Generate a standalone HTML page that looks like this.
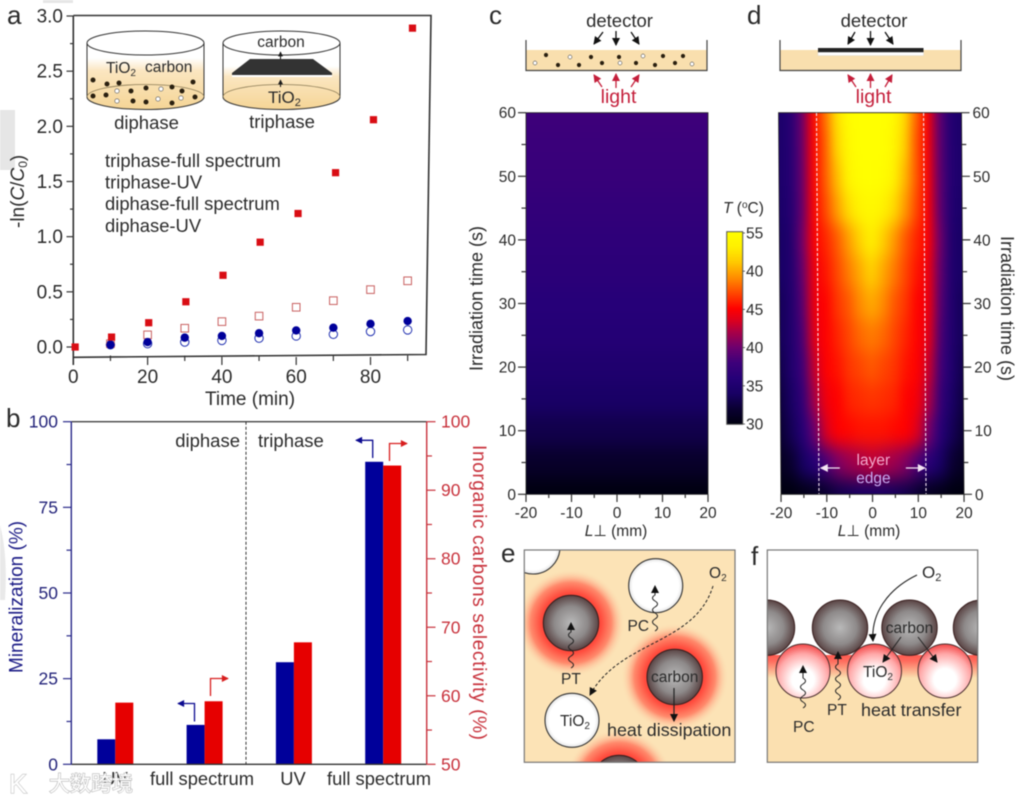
<!DOCTYPE html>
<html lang="en"><head><meta charset="utf-8"><title>Photocatalysis figure</title>
<style>
html,body{margin:0;padding:0;background:#fff}
svg{display:block;font-family:"Liberation Sans",sans-serif;fill:#2b2b2b;filter:blur(.4px)}
svg text{stroke:none}
</style></head>
<body>
<svg id="fig" width="1026" height="800" viewBox="0 0 1026 800" xmlns="http://www.w3.org/2000/svg">
<defs>
<marker id="ah" viewBox="0 0 8 8" refX="7" refY="4" markerWidth="5" markerHeight="6" orient="auto-start-reverse" markerUnits="userSpaceOnUse"><path d="M0 0L8 4L0 8Z" fill="#1a1a1a"/></marker>
<marker id="ahb" viewBox="0 0 8 8" refX="7" refY="4" markerWidth="9" markerHeight="8" orient="auto" markerUnits="userSpaceOnUse"><path d="M0 0L8 4L0 8Z" fill="#111"/></marker>
<marker id="ahr" viewBox="0 0 8 8" refX="7" refY="4" markerWidth="9" markerHeight="8" orient="auto" markerUnits="userSpaceOnUse"><path d="M0 0L8 4L0 8Z" fill="#c41e3a"/></marker>
<marker id="ahB" viewBox="0 0 8 8" refX="7" refY="4" markerWidth="9" markerHeight="7" orient="auto" markerUnits="userSpaceOnUse"><path d="M0 0L8 4L0 8Z" fill="#0b0a8f"/></marker>
<marker id="ahR" viewBox="0 0 8 8" refX="7" refY="4" markerWidth="9" markerHeight="7" orient="auto" markerUnits="userSpaceOnUse"><path d="M0 0L8 4L0 8Z" fill="#d81e1e"/></marker>
<marker id="ahw" viewBox="0 0 8 8" refX="7" refY="4" markerWidth="9" markerHeight="8" orient="auto" markerUnits="userSpaceOnUse"><path d="M0 0L8 4L0 8Z" fill="#f4e4f4"/></marker>
<linearGradient id="fluidA" x1="0" y1="0" x2="0" y2="1"><stop offset="0" stop-color="#fff"/><stop offset=".25" stop-color="#fbe6c0"/><stop offset="1" stop-color="#f5d596"/></linearGradient>
<radialGradient id="gray" cx=".5" cy=".5" r=".5"><stop offset="0" stop-color="#b9b9b9"/><stop offset=".6" stop-color="#8e8a8a"/><stop offset="1" stop-color="#5a4444"/></radialGradient>
<radialGradient id="white" cx=".5" cy=".5" r=".5"><stop offset="0" stop-color="#fff"/><stop offset=".85" stop-color="#fff"/><stop offset="1" stop-color="#e4e4e4"/></radialGradient>
<radialGradient id="pink" cx=".5" cy=".66" r=".68"><stop offset="0" stop-color="#fff"/><stop offset=".3" stop-color="#fff"/><stop offset=".7" stop-color="#ffa8a8"/><stop offset="1" stop-color="#f23c3c"/></radialGradient>
<radialGradient id="halo" cx=".5" cy=".5" r=".5"><stop offset="0" stop-color="#ff3b30"/><stop offset=".55" stop-color="#ff4a3c"/><stop offset=".75" stop-color="#ff8a6c"/><stop offset="1" stop-color="#fde3b6" stop-opacity="0"/></radialGradient>
<linearGradient id="fBand" x1="0" y1="0" x2="0" y2="1"><stop offset="0" stop-color="#ff5a50"/><stop offset=".25" stop-color="#ff6a5c"/><stop offset="1" stop-color="#fbe0b0"/></linearGradient>
<clipPath id="clipC"><rect x="526" y="112.7" width="182" height="381.6"/></clipPath>
<clipPath id="clipD"><rect x="781" y="112.7" width="183" height="381.6"/></clipPath>
<clipPath id="clipE"><rect x="524.5" y="550.5" width="210" height="211.5"/></clipPath>
<clipPath id="clipF"><rect x="767.5" y="550.5" width="210" height="211.5"/></clipPath>
<filter id="smooth" filterUnits="userSpaceOnUse" x="480" y="50" width="540" height="500" color-interpolation-filters="sRGB"><feGaussianBlur stdDeviation="5 9"/></filter>
<linearGradient id="cbarGrad" x1="0" y1="1" x2="0" y2="0"></linearGradient>
</defs>

<!-- scan artefacts -->
<rect x="0" y="110" width="15" height="60" style="fill:#e6e6e6"/>
<rect x="43" y="0" width="30" height="3" style="fill:#e6e6e6"/>
<path d="M0 525Q8 555 5 600L0 600Z" style="fill:#e9e9e9"/>

<!-- panel letters -->
<text x="7" y="24" font-size="26">a</text>
<text x="6" y="427" font-size="26">b</text>
<text x="489" y="24" font-size="26">c</text>
<text x="747" y="24" font-size="26">d</text>
<text x="501" y="562" font-size="26">e</text>
<text x="751" y="565" font-size="26">f</text>

<!-- panel a -->
<g id="panelA">
<path d="M73.3 15.5H431L426 354.5L73.3 357.3" style="fill:none" stroke="#333" stroke-width="1.6"/>
<path d="M73.3 15.5V365" style="fill:none" stroke="#333" stroke-width="1.6"/>
<g id="aAxes"></g>
<g id="aMarks"></g>
<text x="250" y="405" font-size="19" text-anchor="middle">Time (min)</text>
<text transform="translate(24 228) rotate(-90)" font-size="19">-ln(<tspan font-style="italic">C</tspan>/<tspan font-style="italic">C</tspan><tspan font-size="12" dy="3">0</tspan><tspan dy="-3">)</tspan></text>
<g font-size="18.4">
<text x="105" y="167">triphase-full spectrum</text>
<text x="105" y="188.5">triphase-UV</text>
<text x="105" y="210">diphase-full spectrum</text>
<text x="105" y="232">diphase-UV</text>
</g>
<g>
<path d="M87 58V97A58.5 12.5 0 0 0 204 97V58Z" style="fill:url(#fluidA)"/>
<ellipse cx="145.5" cy="43" rx="58.5" ry="12" style="fill:#fff" stroke="#333"/>
<path d="M87 43V97M204 43V97M87 97A58.5 12.5 0 0 0 204 97" style="fill:none" stroke="#333"/>
<path d="M87 97A58.5 12.5 0 0 1 204 97" style="fill:none" stroke="#8a7a55" stroke-width=".8"/>
<g id="diDots"></g>
<text x="106" y="73" font-size="15.5">TiO<tspan font-size="10" dy="3">2</tspan></text>
<text x="145" y="72" font-size="15.5">carbon</text>
<text x="146.5" y="129" font-size="18.5" text-anchor="middle">diphase</text>
</g>
<g>
<path d="M223 66V97A58.5 12.5 0 0 0 340 97V66Z" style="fill:url(#fluidA)"/>
<ellipse cx="281.5" cy="43" rx="58.5" ry="12" style="fill:#fff" stroke="#333"/>
<path d="M223 43V97M340 43V97M223 97A58.5 12.5 0 0 0 340 97" style="fill:none" stroke="#333"/>
<path d="M223 97A58.5 12.5 0 0 1 340 97" style="fill:none" stroke="#8a7a55" stroke-width=".8"/>
<rect x="232" y="73" width="100" height="4" style="fill:#fff" />
<path d="M250 59H313L332 73V75H232V73Z" style="fill:#333"/>
<path d="M280.5 59V52" stroke="#111" style="fill:none" marker-end="url(#ah)"/>
<path d="M280.5 87V80" stroke="#111" style="fill:none" marker-end="url(#ah)"/>
<text x="281" y="47" font-size="15.5" text-anchor="middle">carbon</text>
<text x="268" y="103" font-size="17">TiO<tspan font-size="11" dy="3">2</tspan></text>
<text x="282" y="128" font-size="18.5" text-anchor="middle">triphase</text>
</g>
</g>

<!-- panel b -->
<g id="panelB">
<g id="bMarks"></g>
<path d="M71.3 421.7H426.7" style="fill:none" stroke="#444" stroke-width="1.4"/>
<path d="M71.3 764.3H426.7" style="fill:none" stroke="#333" stroke-width="1.4"/>
<path d="M71.3 421.7V764.3" style="fill:none" stroke="#2a2a8a" stroke-width="1.4"/>
<path d="M426.7 421.7V764.3" style="fill:none" stroke="#c8323c" stroke-width="1.4"/>
<g id="bAxes"></g>
<path d="M246 421.7V764.3" style="fill:none" stroke="#333" stroke-width="1" stroke-dasharray="3 2"/>
<text x="240" y="447" font-size="18.5" text-anchor="end">diphase</text>
<text x="258" y="447" font-size="18.5">triphase</text>
<text transform="translate(22.5 673) rotate(-90)" font-size="19" style="fill:#1c1c86">Mineralization (%)</text>
<text transform="translate(473 445) rotate(90)" font-size="19" textLength="295" style="fill:#c8323c">Inorganic carbons selectivity (%)</text>
<path d="M194.5 721.5V703.5H178" style="fill:none" stroke="#0b0a8f" stroke-width="1.3" marker-end="url(#ahB)"/>
<path d="M210.5 696V678.5H228" style="fill:none" stroke="#d81e1e" stroke-width="1.3" marker-end="url(#ahR)"/>
<path d="M372.7 458V440.3H356" style="fill:none" stroke="#0b0a8f" stroke-width="1.3" marker-end="url(#ahB)"/>
<path d="M389.5 461V443.5H407" style="fill:none" stroke="#d81e1e" stroke-width="1.3" marker-end="url(#ahR)"/>
</g>

<!-- cup c -->
<g id="cupC">
<rect x="526" y="50" width="181" height="20" style="fill:#f9dfae"/>
<path d="M526 40V70.5H707V40" style="fill:none" stroke="#444" stroke-width="1.2"/>
<g id="cDots"></g>
<text x="619.5" y="27" font-size="18.5" text-anchor="middle">detector</text>
<text x="618.5" y="103" font-size="19.5" text-anchor="middle" style="fill:#c41e3a">light</text>
<g style="fill:none" stroke="#111" stroke-width="1.3">
<path d="M603 32L594 44" marker-end="url(#ahb)"/>
<path d="M616 31V45" marker-end="url(#ahb)"/>
<path d="M631 32L639 44" marker-end="url(#ahb)"/>
</g>
<g style="fill:none" stroke="#c41e3a" stroke-width="1.3">
<path d="M602 87L594 75" marker-end="url(#ahr)"/>
<path d="M616 88V74" marker-end="url(#ahr)"/>
<path d="M631 87L639 75" marker-end="url(#ahr)"/>
</g>
</g>
<!-- cup d -->
<g id="cupD">
<rect x="780" y="50" width="181" height="20" style="fill:#f9dfae"/>
<path d="M780 40V70.5H961V40" style="fill:none" stroke="#444" stroke-width="1.2"/>
<rect x="818" y="52" width="105.5" height="3.5" style="fill:#fff" stroke="#ddd" stroke-width=".5"/>
<rect x="818" y="48" width="105.5" height="4.2" style="fill:#222"/>
<text x="874" y="27" font-size="18.5" text-anchor="middle">detector</text>
<text x="873.5" y="103" font-size="19.5" text-anchor="middle" style="fill:#c41e3a">light</text>
<g style="fill:none" stroke="#111" stroke-width="1.3">
<path d="M855 32L848 44" marker-end="url(#ahb)"/>
<path d="M870.5 31V45" marker-end="url(#ahb)"/>
<path d="M885 32L893 44" marker-end="url(#ahb)"/>
</g>
<g style="fill:none" stroke="#c41e3a" stroke-width="1.3">
<path d="M856 87L848 75" marker-end="url(#ahr)"/>
<path d="M870.5 88V74" marker-end="url(#ahr)"/>
<path d="M885 87L892 75" marker-end="url(#ahr)"/>
</g>
</g>

<!-- heatmaps -->
<g>
<g clip-path="url(#clipC)"><g id="heatC" filter="url(#smooth)"></g></g>
<rect x="526" y="112.7" width="182" height="381.6" style="fill:none" stroke="#222" stroke-width=".8"/>
<g id="cAxes"></g>
<text transform="translate(482.5 371) rotate(-90)" font-size="18">Irradiation time (s)</text>
<text x="616" y="536" font-size="15.5" text-anchor="middle"><tspan font-style="italic">L</tspan>⊥ (mm)</text>
</g>
<g transform="matrix(1 0 .0065 1 -3.2 0)">
<g clip-path="url(#clipD)"><g id="heatD" filter="url(#smooth)"></g></g>
<rect x="781" y="112.7" width="183" height="381.6" style="fill:none" stroke="#222" stroke-width=".8"/>
<g id="dAxes"></g>
<g id="dEdges"></g>
<text x="873.5" y="465" font-size="15.5" text-anchor="middle" style="fill:#f4a8cc">layer</text>
<text x="873.5" y="483" font-size="15.5" text-anchor="middle" style="fill:#c8a8f0">edge</text>
<path d="M840 468H821" style="fill:none" stroke="#f4e4f4" stroke-width="1.3" marker-end="url(#ahw)"/>
<path d="M906 468H925" style="fill:none" stroke="#f4e4f4" stroke-width="1.3" marker-end="url(#ahw)"/>
</g>
<text transform="translate(1001 236) rotate(90)" font-size="18">Irradiation time (s)</text>
<text x="869" y="536" font-size="15.5" text-anchor="middle"><tspan font-style="italic">L</tspan>⊥ (mm)</text>
<g id="cbar">
<text x="723" y="213" font-size="15.5"><tspan font-style="italic">T</tspan> (<tspan font-size="10" dy="-5">o</tspan><tspan dy="5">C)</tspan></text>
<rect x="726.7" y="231.7" width="16" height="192.6" style="fill:url(#cbarGrad)" stroke="#555" stroke-width="1"/>
</g>

<!-- panel e -->
<g>
<g clip-path="url(#clipE)">
<rect x="524" y="550" width="211" height="213" style="fill:#fce3b6"/>
<circle cx="571" cy="623" r="54" style="fill:url(#halo)"/>
<circle cx="674.7" cy="677" r="54" style="fill:url(#halo)"/>
<circle cx="619" cy="783" r="54" style="fill:url(#halo)"/>
<circle cx="533" cy="547" r="27" style="fill:url(#white)" stroke="#333" stroke-width="1.1"/>
<circle cx="655.7" cy="585.7" r="27" style="fill:url(#white)" stroke="#333" stroke-width="1.1"/>
<circle cx="571" cy="623" r="27.7" style="fill:url(#gray)" stroke="#3a2020" stroke-width="1.1"/>
<circle cx="674.7" cy="677" r="27.7" style="fill:url(#gray)" stroke="#3a2020" stroke-width="1.1"/>
<circle cx="572" cy="720.3" r="27" style="fill:url(#white)" stroke="#333" stroke-width="1.1"/>
<circle cx="619" cy="783" r="27.7" style="fill:url(#gray)" stroke="#3a2020" stroke-width="1.1"/>
</g>
<rect x="524.3" y="550" width="210.7" height="212.3" style="fill:none" stroke="#777" stroke-width="1.2"/>
<path d="M713 586C695 645 620 640 590 695" style="fill:none" stroke="#222" stroke-width="1" stroke-dasharray="3 2" marker-end="url(#ahb)"/>
<path d="M655 631q5 -3 0 -6t0 -6t0 -6t0 -6t0 -6t0 -6v-9" style="fill:none" stroke="#222" marker-end="url(#ahb)"/>
<path d="M571 668q5 -3 0 -6t0 -6t0 -6t0 -6t0 -6t0 -6v-9" style="fill:none" stroke="#222" marker-end="url(#ahb)"/>
<path d="M674 688V721" style="fill:none" stroke="#222" stroke-width="1.2" marker-end="url(#ahb)"/>
<text x="709" y="578" font-size="15.5">O<tspan font-size="10" dy="3">2</tspan></text>
<text x="627.5" y="631" font-size="15.5">PC</text>
<text x="561" y="684" font-size="15.5">PT</text>
<text x="674.7" y="682" font-size="15.5" text-anchor="middle">carbon</text>
<text x="560" y="726" font-size="15.5">TiO<tspan font-size="10" dy="3">2</tspan></text>
<text x="607" y="736" font-size="17.9">heat dissipation</text>
</g>

<!-- panel f -->
<g>
<g clip-path="url(#clipF)">
<rect x="767" y="550" width="211" height="106" style="fill:#fff"/>
<rect x="767" y="655" width="211" height="23" style="fill:url(#fBand)"/>
<rect x="767" y="678" width="211" height="85" style="fill:#fbe0b0"/>
<circle cx="803" cy="671" r="27" style="fill:url(#pink)" stroke="#4a3030" stroke-width="1"/>
<circle cx="874.5" cy="671" r="27" style="fill:url(#pink)" stroke="#4a3030" stroke-width="1"/>
<circle cx="945" cy="671" r="27" style="fill:url(#pink)" stroke="#4a3030" stroke-width="1"/>
<circle cx="767" cy="627.7" r="27.7" style="fill:url(#gray)" stroke="#3a2020" stroke-width="1"/>
<circle cx="840" cy="627.7" r="27.7" style="fill:url(#gray)" stroke="#3a2020" stroke-width="1"/>
<circle cx="909.5" cy="627.7" r="27.7" style="fill:url(#gray)" stroke="#3a2020" stroke-width="1"/>
<circle cx="981" cy="627.7" r="27.7" style="fill:url(#gray)" stroke="#3a2020" stroke-width="1"/>
</g>
<rect x="767.3" y="550" width="210.4" height="212.3" style="fill:none" stroke="#777" stroke-width="1.2"/>
<path d="M917 575C886 590 871 615 873 641" style="fill:none" stroke="#222" stroke-width="1.1" marker-end="url(#ahb)"/>
<path d="M803 708q5 -3 0 -6t0 -6t0 -6t0 -6t0 -6v-12" style="fill:none" stroke="#222" marker-end="url(#ahb)"/>
<path d="M838 700q5 -3 0 -6t0 -6t0 -6t0 -6t0 -6t0 -6v-12" style="fill:none" stroke="#222" marker-end="url(#ahb)"/>
<path d="M901 637L883 662" style="fill:none" stroke="#222" marker-end="url(#ahb)"/>
<path d="M918 637L937 662" style="fill:none" stroke="#222" marker-end="url(#ahb)"/>
<text x="922" y="578" font-size="17">O<tspan font-size="11" dy="3">2</tspan></text>
<text x="793" y="732" font-size="15.5">PC</text>
<text x="827" y="715" font-size="15.5">PT</text>
<text x="909.5" y="633" font-size="15.5" text-anchor="middle">carbon</text>
<text x="863" y="677" font-size="15.5">TiO<tspan font-size="10" dy="3">2</tspan></text>
<text x="861" y="716" font-size="17.9">heat transfer</text>
</g>

<!-- watermark -->
<g>
<text x="9" y="793" font-size="27" style="fill:#fff;paint-order:stroke;stroke:#c4c4c4;stroke-width:1.2px">K</text>
<text x="49" y="791" font-size="21" style="font-family:'Liberation Sans','Noto Sans CJK SC',sans-serif;fill:#fff;paint-order:stroke;stroke:#b8b8b8;stroke-width:1.2px">大数跨境</text>
</g>
</svg>

<script>
// ---------- panel a data ----------
const aTimesFull = [0.5,10.3,20.3,30.3,40.3,50.3,60.5,70.6,80.8,91.3];
const aTriphaseFull = [0,0.09,0.22,0.41,0.65,0.95,1.21,1.58,2.06,2.89];
const aTimesOther = [10,20,30,40,50,60,70,80,90];
const aTriphaseUV = [0.03,0.11,0.17,0.23,0.28,0.36,0.42,0.52,0.60];
const aDiphaseFull = [0.02,0.045,0.085,0.10,0.125,0.15,0.175,0.21,0.235];
const aDiphaseUV = [0.02,0.03,0.045,0.06,0.08,0.10,0.115,0.14,0.155];
const aYTicks = [0,0.5,1,1.5,2,2.5,3];
const aYTickLabels = ['0.0','0.5','1.0','1.5','2.0','2.5','3.0'];
const aXTicks = [0,20,40,60,80];
// ---------- panel b data ----------
const bCategories = ['UV','full spectrum','UV','full spectrum'];
const bMineralization = [7.3,11.5,29.8,88.3];
const bSelectivity = [59,59.2,67.8,93.6];
const bLeftTicks = [0,25,50,75,100];
const bRightTicks = [50,60,70,80,90,100];
// ---------- heatmap data ----------
const timeTicks = [0,10,20,30,40,50,60];
const mmTicks = [-20,-10,0,10,20];
const heatTimes = [60,55,50,45,40,35,30,25,20,15,10,5,0];
const heatPositions = [-20,-17.5,-15,-12.5,-10,-7.5,-5,-2.5,0,2.5,5,7.5,10,12.5,15,17.5,20];
const heatValuesC = [38,37.7,37.4,37,36.7,36.4,36,35.7,35,34.2,33,31.5,30];
const heatValuesD = [
[34.5,35.5,39.5,45,48,52,54.5,55,55,55,54.5,52,48,45,39.5,35.5,34.5],
[34.5,35.5,39.5,45,47.5,51.5,54,55,55,55,54,51.5,47.5,45,39.5,35.5,34.5],
[34.5,35.5,39.5,45,47.5,50.5,53.5,54.8,55,54.8,53.5,50.5,47.5,45,39.5,35.5,34.5],
[34.3,35.3,39.5,45,47,49.5,52,53.5,54,53.5,52,49.5,47,45,39.5,35.3,34.3],
[34,35,40,45,46,47.5,49.5,51.5,53,51.5,49.5,47.5,46,45,40,35,34],
[34,35,39.5,44.5,45.5,47,48.5,50,51.5,50,48.5,47,45.5,44.5,39.5,35,34],
[33.5,35,39,44.5,45,46.5,47.5,49,50,49,47.5,46.5,45,44.5,39,35,33.5],
[33.5,35,38.5,44,45,46,47,48,48.5,48,47,46,45,44,38.5,35,33.5],
[33,35,38,43,45,45.5,46.5,47,47.5,47,46.5,45.5,45,43,38,35,33],
[32.5,34.2,37,42,44.5,45,46,46.3,46.5,46.3,46,45,44.5,42,37,34.2,32.5],
[32,33.5,36,40,43.5,45,45.2,45.5,45.5,45.5,45.2,45,43.5,40,36,33.5,32],
[31,32,34,36,38.5,40.5,41.5,42,42.5,42,41.5,40.5,38.5,36,34,32,31],
[30,30,30.5,31,32,33,33.5,34,34,34,33.5,33,32,31,30.5,30,30]
];
const layerEdges = [-11.7,11.7];
const cbarLabels = ['55','40','45','40','35','30'];
// colormap
const cmapTemps = [30,32,34,36,38,40,42,43.5,45,47,49,51,53,55];
const cmapR = [0,10,24,38,62,110,170,220,255,255,255,255,255,255];
const cmapG = [0,0,0,0,0,0,0,0,0,70,140,200,240,255];
const cmapB = [16,50,100,120,122,110,70,30,0,0,0,0,0,0];
// dot arrangements in the schematic insets
const diSolid = [[93,80],[107,84],[119,83],[131,91],[146,88],[172,87],[182,91],[193,82],[93,96],[106,95],[133,101],[146,102],[172,103],[195,97]];
const diHollow = [[117,91],[161,89],[117,101],[158,99],[181,98]];
const cSolid = [[546,55],[558,65],[579,65],[591,57],[602,63],[619,57],[636,63],[655,65],[663,56],[675,63],[683,56]];
const cHollow = [[535,63],[570,57],[620,63],[643,56],[692,64]];

const NS='http://www.w3.org/2000/svg';
function mk(parent,tag){const e=document.createElementNS(NS,tag);parent.appendChild(e);return e;}
function set(e,o){for(const k in o){e.setAttribute(k,o[k]);}return e;}
function line(p,x1,y1,x2,y2,col,w){
  const e=mk(p,'line');
  
  
  set(e,{x1,y1,x2,y2,stroke:col,'stroke-width':w||1.2});
  return e;
}
function label(p,x,y,txt,anchor,size,col){
  const e=mk(p,'text');
  
  
  set(e,{x,y,'text-anchor':anchor,'font-size':size});
  if(col){e.style.fill=col;}
  e.textContent=txt;
  return e;
}
// panel a
const xA=v=>73.3+3.715*v, yA=v=>347-110.33*v;
const aAxes=document.getElementById('aAxes'), aMarks=document.getElementById('aMarks');
aYTicks.forEach((v,i)=>{
  line(aAxes,66.5,yA(v),73.3,yA(v),'#333');
  label(aAxes,63,yA(v)+6.5,aYTickLabels[i],'end',19);
  if(i<aYTicks.length-1){line(aAxes,70,yA(v+0.25),73.3,yA(v+0.25),'#333');}
});
aXTicks.forEach(v=>{
  line(aAxes,xA(v),357,xA(v),365,'#333');
  label(aAxes,xA(v),383,String(v),'middle',19);
  line(aAxes,xA(v+10),355.5,xA(v+10),361,'#333');
});
aTimesOther.forEach((t,i)=>{
  const h=mk(aMarks,'circle');
  
  
  set(h,{cx:xA(t),cy:yA(aDiphaseUV[i]),r:4.2,stroke:'#2030b0','stroke-width':1});
  h.style.fill='none';
});
aTimesOther.forEach((t,i)=>{
  const h=mk(aMarks,'rect');
  
  
  set(h,{x:xA(t)-3.8,y:yA(aTriphaseUV[i])-3.8,width:7.6,height:7.6,stroke:'#c86060','stroke-width':1});
  h.style.fill='none';
});
aTimesOther.forEach((t,i)=>{
  const h=mk(aMarks,'circle');
  
  
  set(h,{cx:xA(t),cy:yA(aDiphaseFull[i]),r:4.2});
  h.style.fill='#00009a';
});
aTimesFull.forEach((t,i)=>{
  const h=mk(aMarks,'rect');
  
  
  set(h,{x:xA(t)-3.6,y:yA(aTriphaseFull[i])-3.6,width:7.2,height:7.2});
  h.style.fill='#d90d14';
});
// inset dots
function dots(id,solid,hollow,r,rh){
  const g=document.getElementById(id);
  solid.forEach(d=>{
    const c=mk(g,'circle');
    
    
    set(c,{cx:d[0],cy:d[1],r});
    c.style.fill='#2a2010';
  });
  hollow.forEach(d=>{
    const c=mk(g,'circle');
    
    
    set(c,{cx:d[0],cy:d[1],r:rh,stroke:'#555','stroke-width':.6});
    c.style.fill='#fff';
  });
}
dots('diDots',diSolid,diHollow,2.5,2.2);
dots('cDots',cSolid,cHollow,2.1,1.9);
// panel b
const xB=i=>115.3+89.3*i, yL=v=>764.3-3.426*v, yR=v=>764.3-6.852*(v-50);
const bMarks=document.getElementById('bMarks'), bAxes=document.getElementById('bAxes');
bCategories.forEach((c,i)=>{
  const b1=mk(bMarks,'rect');
  
  
  set(b1,{x:xB(i)-18,y:yL(bMineralization[i]),width:18,height:764.3-yL(bMineralization[i])});
  b1.style.fill='#00009a';
  const b2=mk(bMarks,'rect');
  
  
  set(b2,{x:xB(i),y:yR(bSelectivity[i]),width:18,height:764.3-yR(bSelectivity[i])});
  b2.style.fill='#e60000';
  const t=label(bAxes,[115,202,293,379][i],785,c,'middle',18.35);
  
});
bLeftTicks.forEach((v,i)=>{
  line(bAxes,63,yL(v),71.3,yL(v),'#2a2a8a');
  label(bAxes,58,yL(v)+6,String(v),'end',17.5,'#24247a');
  if(i<bLeftTicks.length-1){line(bAxes,66.5,yL(v+12.5),71.3,yL(v+12.5),'#2a2a8a');}
});
bRightTicks.forEach((v,i)=>{
  line(bAxes,426.7,yR(v),435.5,yR(v),'#c8323c');
  label(bAxes,441,yR(v)+6,String(v),'start',17.5,'#c8323c');
  if(i<bRightTicks.length-1){line(bAxes,426.7,yR(v+5),432,yR(v+5),'#c8323c');}
});
// colormap
function cmap(t){
  const n=cmapTemps.length;
  if(t<=cmapTemps[0]){return `rgb(${cmapR[0]},${cmapG[0]},${cmapB[0]})`;}
  if(t>=cmapTemps[n-1]){return `rgb(${cmapR[n-1]},${cmapG[n-1]},${cmapB[n-1]})`;}
  let i=0;while(cmapTemps[i+1]<t){i++;}
  const f=(t-cmapTemps[i])/(cmapTemps[i+1]-cmapTemps[i]);
  const m=a=>Math.round(a[i]+(a[i+1]-a[i])*f);
  return `rgb(${m(cmapR)},${m(cmapG)},${m(cmapB)})`;
}
// colorbar
const grad=document.getElementById('cbarGrad');
cmapTemps.forEach(t=>{
  const s=mk(grad,'stop');
  set(s,{offset:(t-30)/25,'stop-color':cmap(t)});
});
const cbar=document.getElementById('cbar');
cbarLabels.forEach((l,i)=>{
  const y=233+i*38.2;
  label(cbar,746,y+5.5,l,'start',15.5);
  line(cbar,742.7,y,745,y,'#444',.8);
});
// heatmaps
function drawHeat(id,x0,scale,valueAt){
  const g=document.getElementById(id);
  const yH=v=>494.3-6.36*v, xH=v=>x0+(v+20)*scale;
  heatTimes.forEach((t,r)=>{
    const top=r===0?yH(t)-40:yH(t)-15.9, bot=r===heatTimes.length-1?yH(t)+40:yH(t)+15.9;
    heatPositions.forEach((p,c)=>{
      const left=c===0?xH(p)-40:xH(p)-1.25*scale, right=c===heatPositions.length-1?xH(p)+40:xH(p)+1.25*scale;
      const cell=mk(g,'rect');
      
      
      set(cell,{x:left,y:top,width:right-left+.5,height:bot-top+.5});
      cell.style.fill=cmap(valueAt(r,c));
    });
  });
}
drawHeat('heatC',526,4.55,(r,c)=>heatValuesC[r]);
drawHeat('heatD',781,4.575,(r,c)=>heatValuesD[r][c]);
function axes(id,x0,scale,left){
  const g=document.getElementById(id);
  const yH=v=>494.3-6.36*v, xH=v=>x0+(v+20)*scale;
  const edge=left?x0:x0+40*scale, dir=left?-1:1;
  timeTicks.forEach((v,i)=>{
    line(g,edge,yH(v),edge+dir*8,yH(v),'#333');
    label(g,left?edge-10:edge+11,yH(v)+5.5,String(v),left?'end':'start',15.5);
    if(i<timeTicks.length-1){line(g,edge,yH(v+5),edge+dir*4.5,yH(v+5),'#333');}
  });
  mmTicks.forEach((v,i)=>{
    line(g,xH(v),494.3,xH(v),502,'#333');
    label(g,xH(v),518,String(v),'middle',15.5);
    if(i<mmTicks.length-1){line(g,xH(v+5),494.3,xH(v+5),498,'#333');}
  });
}
axes('cAxes',526,4.55,true);
axes('dAxes',781,4.575,false);
const dEdges=document.getElementById('dEdges');
layerEdges.forEach(v=>{
  const e=mk(dEdges,'line');
  
  
  const x=781+(v+20)*4.575;
  set(e,{x1:x,y1:113,x2:x,y2:494,stroke:'#f6e8f6','stroke-width':1.1,'stroke-dasharray':'3 2'});
});
</script>
</body></html>
